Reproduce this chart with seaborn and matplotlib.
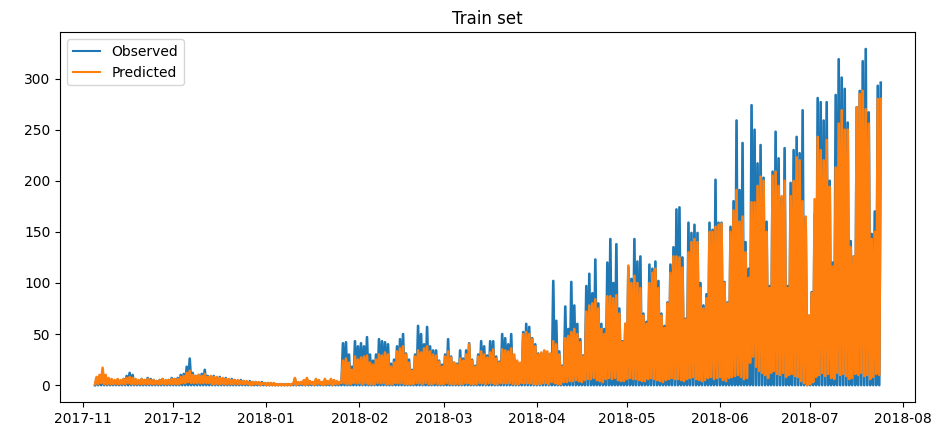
import numpy as np
import pandas as pd
import matplotlib
matplotlib.use("Agg")
import matplotlib.pyplot as plt
import seaborn as sns

# Daily values, one per day starting 2017-11-05
start_date = "2017-11-05"

obs_peak = [
    6, 9, 12, 7, 5, 4, 4, 5, 4, 6, 9, 12, 10, 5, 4, 6, 5, 7, 6, 5, 4, 5, 6, 4, 5, 7, 6,
    7, 10, 11, 18, 26, 12, 9, 10, 11, 15, 9, 8, 9, 7, 8, 6, 7, 5, 6, 5, 4, 5, 4, 3, 4, 3, 3, 2, 3, 2, 2,
    2, 1, 1, 1, 1, 1, 1, 1, 6, 2, 3, 4, 6, 3, 3, 5, 4, 3, 5, 3, 5, 4, 3, 3,
    41, 42, 30, 18, 43, 38, 41, 38, 47, 30,
    24, 30, 45, 43, 42, 40, 21, 25, 38, 45,
    50, 31, 25, 15, 30, 58, 50, 40, 57, 38,
    34, 34, 24, 20, 30, 45, 28, 22, 21, 34,
    26, 34, 41, 25, 19, 30, 43, 38, 29, 43,
    43, 28, 23, 50, 46, 40, 50, 26, 22, 21,
    52, 60, 57, 46, 40, 31, 31, 33, 31, 30,
    102, 63, 33, 19, 77, 55, 101, 78,
    60, 45, 29, 97, 109, 90, 123, 80, 60, 55,
    120, 143, 100, 138, 75, 43, 60, 115, 104, 143,
    121, 126, 70, 62, 118, 114, 121, 102, 70, 58,
    81, 118, 135, 172, 174, 125, 65, 159, 149, 157,
    149, 100, 78, 89, 159, 152, 201, 159, 159, 101,
    81, 155, 180, 259, 191, 237, 140, 114, 274, 250,
    217, 235, 203, 160, 97, 209, 248, 222, 183, 232,
    97, 198, 230, 243, 227, 269, 164, 68, 91, 167,
    281, 277, 259, 277, 200, 120, 284, 319, 301, 290,
    257, 141, 126, 272, 288, 317, 329, 267, 148, 170, 293, 296,
]

pred_peak = [
    8, 10, 17, 10, 7, 6, 5, 6, 5, 6, 7, 8, 7, 6, 5, 6, 5, 6, 5, 5, 4, 5, 6, 5, 5, 6, 6,
    6, 8, 9, 12, 14, 10, 9, 10, 9, 11, 8, 9, 8, 8, 7, 7, 6, 6, 5, 5, 5, 4, 4, 4, 3, 3, 3, 3, 2, 2, 2,
    2, 2, 1, 1, 1, 1, 1, 1, 7, 3, 3, 5, 7, 4, 3, 6, 5, 3, 6, 4, 6, 5, 4, 3,
    24, 26, 22, 15, 28, 25, 27, 28, 29, 22,
    20, 25, 30, 29, 32, 30, 18, 22, 33, 36,
    38, 30, 22, 14, 28, 34, 32, 36, 38, 33,
    30, 29, 23, 18, 28, 33, 27, 22, 20, 26,
    24, 30, 40, 24, 18, 28, 33, 30, 27, 32,
    35, 26, 22, 35, 34, 33, 36, 30, 24, 22,
    50, 52, 50, 45, 38, 30, 32, 34, 33, 31,
    43, 40, 30, 18, 46, 48, 52, 55,
    50, 42, 28, 72, 78, 80, 84, 75, 55, 50,
    87, 87, 85, 88, 70, 42, 60, 117, 100, 107,
    100, 95, 68, 60, 100, 110, 114, 95, 68, 56,
    80, 110, 126, 126, 125, 115, 64, 130, 140, 143,
    140, 95, 75, 85, 150, 150, 155, 157, 158, 100,
    80, 150, 171, 191, 160, 165, 130, 105, 179, 179,
    195, 204, 200, 150, 95, 205, 209, 195, 185, 200,
    95, 185, 200, 223, 220, 180, 165, 68, 90, 182,
    243, 230, 220, 240, 194, 116, 213, 256, 269, 250,
    250, 135, 126, 272, 285, 288, 270, 256, 143, 150, 280, 280,
]

pred_low = [
    1, 1, 2, 1, 1, 1, 1, 1, 1, 1, 1, 2, 1, 1, 1, 1, 1, 1, 1, 1, 1, 1, 1, 1, 1, 1, 1,
    1, 1, 2, 2, 3, 2, 2, 2, 2, 2, 2, 2, 1, 1, 1, 1, 1, 1, 1, 1, 1, 1, 1, 1, 1, 0, 1, 1, 0, 1, 0,
    0, 0, 0, 0, 0, 0, 0, 0, 1, 0, 1, 1, 0, 1, 1, 0, 1, 1, 0, 1, 1, 0, 1, 1,
    2, 2, 1, 1, 2, 2, 2, 1, 2, 1,
    1, 1, 2, 2, 2, 1, 1, 1, 2, 2,
    2, 1, 1, 1, 1, 2, 2, 1, 2, 1,
    1, 2, 1, 1, 1, 2, 1, 1, 1, 1,
    1, 2, 2, 1, 1, 1, 2, 2, 1, 2,
    2, 1, 1, 2, 2, 2, 2, 1, 1, 1,
    2, 2, 2, 2, 1, 1, 1, 2, 2, 1,
    3, 2, 1, 1, 3, 3, 4, 4,
    5, 4, 3, 5, 6, 6, 7, 5, 4, 3,
    6, 7, 6, 7, 5, 4, 4, 6, 7, 6,
    6, 5, 4, 4, 6, 7, 6, 5, 4, 3,
    5, 6, 7, 6, 6, 5, 4, 6, 7, 8,
    6, 5, 4, 5, 7, 8, 6, 7, 8, 5,
    4, 7, 8, 9, 10, 8, 6, 7, 22, 28,
    18, 14, 12, 10, 7, 12, 14, 11, 10, 12,
    8, 10, 11, 9, 8, 4, 2, 0, 1, 3,
    8, 10, 12, 9, 11, 7, 6, 12, 10, 11,
    9, 6, 7, 11, 10, 12, 9, 10, 6, 8, 11, 10,
]

obs_low = [
    0, 0, 0, 0, 0, 0, 0, 0, 0, 0, 0, 0, 0, 0, 0, 0, 0, 0, 0, 0, 0, 0, 0, 0, 0, 0, 0,
    0, 0, 0, 0, 0, 0, 0, 0, 0, 0, 0, 0, 0, 0, 0, 0, 0, 0, 0, 0, 0, 0, 0, 0, 0, 0, 0, 0, 0, 0, 0,
    0, 0, 0, 0, 0, 0, 0, 0, 0, 0, 0, 0, 0, 0, 0, 0, 0, 0, 0, 0, 0, 0, 0, 0,
    0, 0, 0, 0, 0, 0, 0, 0, 0, 0,
    0, 0, 0, 0, 0, 0, 0, 0, 0, 0,
    0, 0, 0, 0, 0, 0, 0, 0, 0, 0,
    0, 0, 0, 0, 0, 0, 0, 0, 0, 0,
    0, 0, 0, 0, 0, 0, 0, 0, 0, 0,
    0, 0, 0, 0, 0, 0, 0, 0, 0, 0,
    0, 0, 0, 0, 0, 0, 0, 0, 0, 0,
    0, 0, 0, 0, 0, 0, 0, 0,
    0, 0, 0, 0, 0, 0, 0, 0, 0, 0,
    0, 0, 0, 0, 0, 0, 0, 0, 0, 0,
    0, 0, 0, 0, 0, 0, 0, 0, 0, 0,
    0, 0, 0, 0, 0, 0, 0, 0, 0, 0,
    0, 0, 0, 0, 0, 0, 0, 0, 0, 0,
    0, 0, 0, 0, 0, 0, 0, 0, 0, 0,
    0, 0, 0, 0, 0, 0, 0, 0, 0, 0,
    0, 0, 0, 0, 0, 0, 0, 0, 0, 0,
    0, 0, 0, 0, 0, 0, 0, 0, 0, 0,
    0, 0, 0, 0, 0, 0, 0, 0, 0, 0, 0, 0,
]

series_labels = ["Observed", "Predicted"]
series_colors = ["#1f77b4", "#ff7f0e"]

n = len(obs_peak)
assert len(pred_peak) == n and len(pred_low) == n and len(obs_low) == n, (
    len(obs_peak), len(pred_peak), len(pred_low), len(obs_low))

days = pd.date_range(start_date, periods=n, freq="D")
# each day: night low at 00:00, daytime peak at 12:00
times = []
obs_vals = []
pred_vals = []
for i, d in enumerate(days):
    times.append(d)
    obs_vals.append(obs_low[i])
    pred_vals.append(pred_low[i])
    times.append(d + pd.Timedelta(hours=12))
    obs_vals.append(obs_peak[i])
    pred_vals.append(pred_peak[i])

df = pd.DataFrame({"time": times, "Observed": obs_vals, "Predicted": pred_vals})

fig = plt.figure(figsize=(9.44, 4.29), dpi=100)
ax = fig.add_axes([0.0636, 0.063, 0.906, 0.862])

for lab, col in zip(series_labels, series_colors):
    sns.lineplot(data=df, x="time", y=lab, ax=ax, color=col, label=lab,
                 estimator=None, linewidth=1.9)

ax.set_xlim(pd.Timestamp("2017-10-24 08:00"), pd.Timestamp("2018-08-05"))
ax.set_xlabel("")
ax.set_ylabel("")
ax.set_title("Train set", fontsize=12)
leg = ax.legend(loc="upper left", fontsize=10)
for h in leg.get_lines():
    h.set_linewidth(1.5)
ax.set_yticks([0, 50, 100, 150, 200, 250, 300])
ax.tick_params(labelsize=10)

fig.savefig("out.png", dpi=100)
